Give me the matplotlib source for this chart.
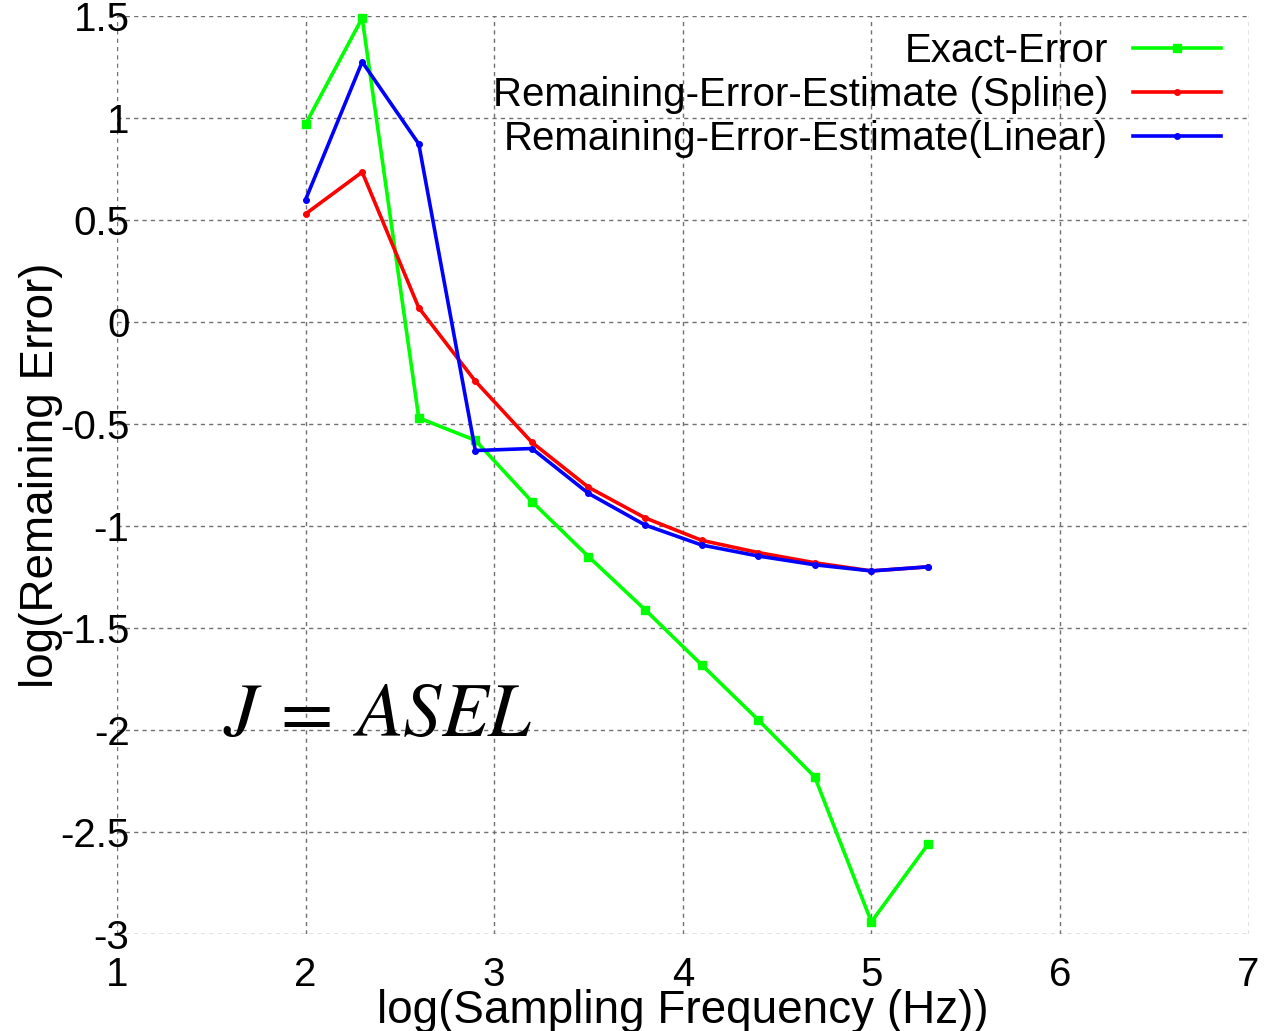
import numpy as np
import matplotlib
matplotlib.use("Agg")
import matplotlib.pyplot as plt

plt.rcParams['font.family'] = ['Liberation Sans', 'DejaVu Sans']
plt.rcParams['mathtext.fontset'] = 'stix'

# log10 of sampling frequency (100 Hz doubling up to ~200 kHz)
log_freq = [2.0, 2.3, 2.6, 2.9, 3.2, 3.5, 3.8, 4.1, 4.4, 4.7, 5.0, 5.3]

exact_err = [0.97, 1.49, -0.47, -0.58, -0.88, -1.15, -1.41, -1.68, -1.95, -2.23, -2.94, -2.56]
spline_est = [0.53, 0.735, 0.07, -0.29, -0.59, -0.81, -0.96, -1.07, -1.13, -1.18, -1.22, -1.20]
linear_est = [0.60, 1.275, 0.873, -0.63, -0.62, -0.84, -0.995, -1.093, -1.147, -1.19, -1.22, -1.20]

xticks = [1, 2, 3, 4, 5, 6, 7]
yticks = [-3, -2.5, -2, -1.5, -1, -0.5, 0, 0.5, 1, 1.5]
ytick_labels = ['-3', '-2.5', '-2', '-1.5', '-1', '-0.5', '0', '0.5', '1', '1.5']

fig = plt.figure(figsize=(12.65, 10.31), dpi=100)
ax = fig.add_axes([0.0925, 0.094, 0.8945, 0.8905])

ax.plot(log_freq, exact_err, color='#00ff00', lw=2.6, marker='s', ms=6,
        label='Exact-Error', clip_on=False, zorder=3)
ax.plot(log_freq, spline_est, color='#ff0000', lw=2.6, marker='o', ms=4,
        label='Remaining-Error-Estimate (Spline)', clip_on=False, zorder=3)
ax.plot(log_freq, linear_est, color='#0000ff', lw=2.6, marker='o', ms=4,
        label='Remaining-Error-Estimate(Linear)', clip_on=False, zorder=3)

ax.set_xlim(1, 7)
ax.set_ylim(-3, 1.5)
ax.set_xticks(xticks)
ax.set_yticks(yticks)
ax.set_yticklabels(ytick_labels)
ax.tick_params(length=0, labelsize=29)
ax.tick_params(axis='y', pad=-9)
ax.tick_params(axis='x', pad=16)

for s in ax.spines.values():
    s.set_visible(False)
ax.grid(True, color='#707070', linestyle=(0, (3, 3)), linewidth=1.0)
ax.set_axisbelow(True)

ax.set_xlabel('log(Sampling Frequency (Hz))', fontsize=33, labelpad=-4)
ax.set_ylabel('log(Remaining Error)', fontsize=33, labelpad=-2)

ax.text(1.56, -2.03, r'$J\:=\:ASEL$', fontsize=55, ha='left', va='baseline')

leg = ax.legend(loc='upper right', frameon=False, markerfirst=False,
                fontsize=29, handlelength=2.2, labelspacing=0.15,
                borderaxespad=0.0, handletextpad=0.6,
                bbox_to_anchor=(0.99, 1.0))
for t in leg.get_texts():
    t.set_ha('right')

fig.savefig('out.png', dpi=100)
